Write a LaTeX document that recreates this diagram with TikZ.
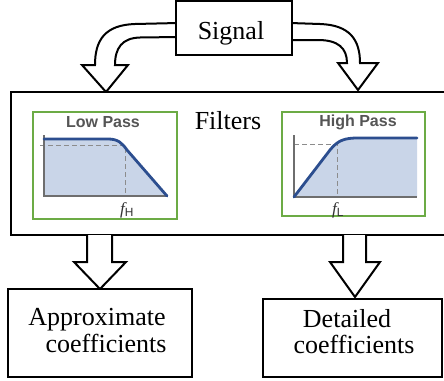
\documentclass[tikz,border=0pt]{standalone}
\usepackage{fontspec}
\setmainfont{Liberation Serif}
\newfontfamily\titlefont{Liberation Sans}
\definecolor{gframe}{HTML}{6CAB45}
\definecolor{pfill}{HTML}{C9D5E8}
\definecolor{pcurve}{HTML}{2C4E8F}
\definecolor{paxis}{HTML}{6E6E6E}
\definecolor{pdash}{HTML}{8C8C8C}
\definecolor{ptitle}{HTML}{555555}
\tikzset{
  blk/.style={draw=black, line width=2.5pt, fill=white},
  bigtxt/.style={font=\fontsize{26}{30}\selectfont, align=center, inner sep=0pt},
  gbox/.style={draw=gframe, line width=2.5pt},
  axisline/.style={draw=paxis, line width=1.2pt},
  dashline/.style={draw=pdash, line width=1pt, dash pattern=on 5pt off 3pt},
  curve/.style={draw=pcurve, line width=2.8pt, line cap=round},
  ptitle/.style={font=\titlefont\bfseries\fontsize{16}{18}\selectfont, text=ptitle, inner sep=0pt},
  flab/.style={font=\fontsize{17}{19}\selectfont, text=black!80, inner sep=0pt},
  barrow/.style={draw=black, line width=2pt, fill=white, line join=miter},
}
\begin{document}
\begin{tikzpicture}[x=1pt,y=-1pt]
\useasboundingbox (0,0) rectangle (444,380);
\clip (0,0) rectangle (444,380);
% curved block arrows from Signal
\draw[barrow] (178,23) -- (135,24) .. controls (105,25) and (95,40) .. (95,65) -- (82,65) -- (106,92) -- (128,65) -- (115,65) .. controls (115,48) and (122,38) .. (140,37.5) -- (178,37);
\draw[barrow] (290,23) -- (320,24) .. controls (350,25) and (360,40) .. (360,63) -- (378,63) -- (358,90) -- (338,63) -- (347,63) .. controls (347,48) and (338,40) .. (318,40) -- (290,40);
% Signal box
\node[blk, minimum width=116pt, minimum height=54pt] (sig) at (234,28) {};
\node[bigtxt, anchor=base] (sigt) at (231,39) {Signal};
% Filters box
\node[blk, minimum width=438pt, minimum height=143pt] (filt) at (230,163.5) {};
\node[bigtxt, anchor=base] (ftxt) at (228,129) {Filters};
% Low pass panel
\node[gbox, minimum width=144pt, minimum height=107pt] (lp) at (105,165.5) {};
\node[ptitle, anchor=base] (lpt) at (103,127) {Low Pass};
\fill[pfill] (44,139) -- (108,139) .. controls (118,139) and (122,143) .. (127,150) -- (167,196) -- (44,196) -- cycle;
\draw[dashline] (40,145) -- (125,145) -- (125,196);
\draw[axisline] (44,135) -- (44,196) -- (167,196);
\draw[curve] (44,139) -- (108,139) .. controls (118,139) and (122,143) .. (127,150) -- (167,196);
\node[flab, anchor=base] (fh) at (127,214) {\itshape f\textsubscript{\titlefont\upshape H}};
% High pass panel
\node[gbox, minimum width=143pt, minimum height=104pt] (hp) at (353.5,164) {};
\node[ptitle, anchor=base] (hpt) at (358,126) {High Pass};
\fill[pfill] (294,197) -- (330,150) .. controls (338,140) and (345,138) .. (358,138) -- (417,138) -- (417,197) -- cycle;
\draw[dashline] (294,144) -- (337,144) -- (337,197);
\draw[axisline] (294,135) -- (294,197) -- (417,197);
\draw[curve] (294,197) -- (330,150) .. controls (338,140) and (345,138) .. (358,138) -- (417,138);
\node[flab, anchor=base] (fl) at (338,214) {\itshape f\textsubscript{\titlefont\upshape L}};
% bottom block arrows
\draw[barrow] (87,235) -- (87,262) -- (74,262) -- (100,289) -- (126,262) -- (112,262) -- (112,235);
\draw[barrow] (343,235) -- (343,262) -- (330,262) -- (355,297) -- (380,262) -- (366,262) -- (366,235);
% output boxes
\node[blk, minimum width=184pt, minimum height=88pt] (apx) at (100,333) {};
\node[bigtxt, anchor=base] (apx1) at (97,325) {Approximate};
\node[bigtxt, anchor=base] (apx2) at (106,352) {coefficients};
\node[blk, minimum width=179pt, minimum height=78pt] (det) at (352.5,338) {};
\node[bigtxt, anchor=base] (det1) at (347,327) {Detailed};
\node[bigtxt, anchor=base] (det2) at (354,353) {coefficients};
\end{tikzpicture}
\end{document}
